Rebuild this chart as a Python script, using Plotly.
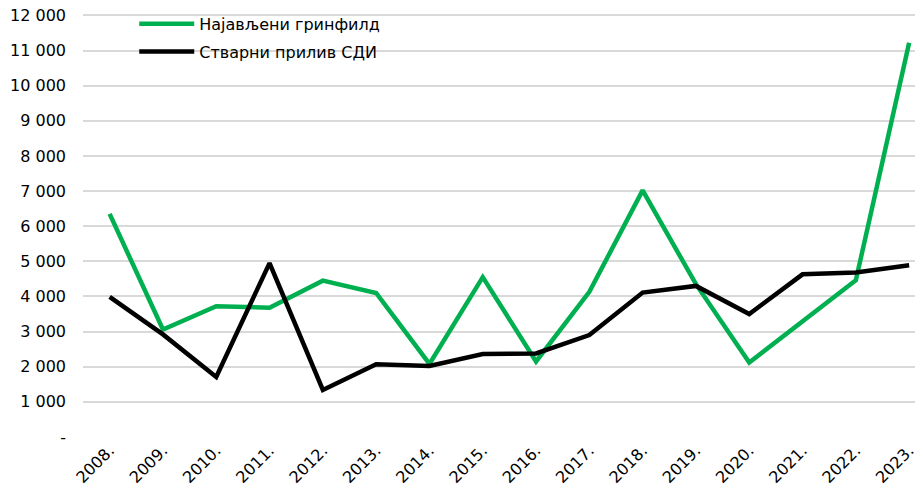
import plotly.graph_objects as go

years = ["2008.", "2009.", "2010.", "2011.", "2012.", "2013.", "2014.", "2015.",
         "2016.", "2017.", "2018.", "2019.", "2020.", "2021.", "2022.", "2023."]
greenfield = [6350, 3060, 3720, 3680, 4450, 4100, 2080, 4550,
              2150, 4130, 7020, 4350, 2120, 3300, 4460, 11220]
fdi_inflow = [3990, 2920, 1710, 4950, 1340, 2070, 2020, 2360,
              2380, 2900, 4110, 4300, 3500, 4630, 4680, 4890]
y_ticks = [0, 1000, 2000, 3000, 4000, 5000, 6000, 7000, 8000, 9000, 10000, 11000, 12000]
y_labels = ["-", "1 000", "2 000", "3 000", "4 000", "5 000", "6 000", "7 000",
            "8 000", "9 000", "10 000", "11 000", "12 000"]

FONT = "DejaVu Sans, Liberation Sans, Arial, sans-serif"

fig = go.Figure()
fig.add_trace(go.Scatter(x=list(range(len(years))), y=greenfield, mode="lines",
                         name="Најављени гринфилд", legendgroup="g1",
                         line=dict(color="#00B050", width=4.5)))
fig.add_trace(go.Scatter(x=list(range(len(years))), y=fdi_inflow, mode="lines",
                         name="Стварни прилив СДИ", legendgroup="g2",
                         line=dict(color="#000000", width=4.5)))

fig.update_layout(
    width=915, height=484,
    margin=dict(l=75, r=0, t=6, b=55, autoexpand=False),
    paper_bgcolor="white", plot_bgcolor="white",
    font=dict(family=FONT, size=16, color="#000000"),
    legend=dict(x=0.061, y=1.017, xanchor="left", yanchor="top",
                bgcolor="rgba(0,0,0,0)", font=dict(family=FONT, size=16, color="#000000"),
                itemwidth=55, tracegroupgap=4),
    xaxis=dict(tickmode="array", tickvals=list(range(len(years))), ticktext=years,
               range=[-0.5, 15.26], tickangle=-45, showgrid=False, zeroline=False,
               showline=False, ticks="", automargin=False, ticklabeloverflow="allow",
               tickfont=dict(family=FONT, size=16, color="#000000")),
    yaxis=dict(tickmode="array", tickvals=y_ticks, ticktext=y_labels,
               range=[0, 12040], showgrid=True, gridcolor="#D9D9D9", gridwidth=1.5,
               zeroline=False, showline=False, ticks="", automargin=False,
               ticklabelstandoff=16, ticklabeloverflow="allow",
               tickfont=dict(family=FONT, size=16, color="#000000")),
)

fig.write_html("out.html")
